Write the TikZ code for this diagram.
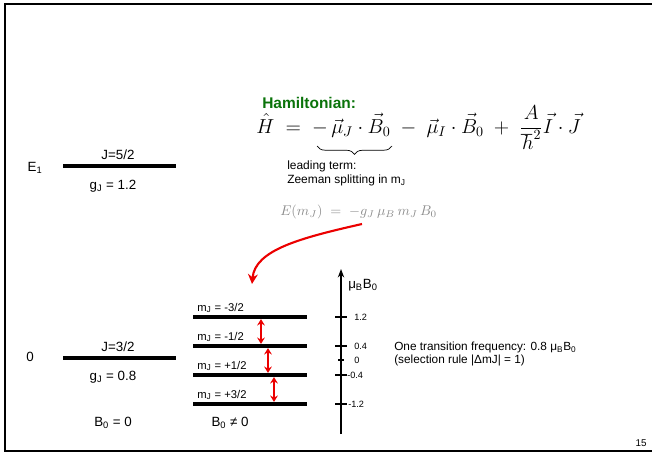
\documentclass[tikz,border=0pt]{standalone}
\usepackage{amsmath,amssymb}
\usepackage{fontspec}
\setmainfont{Liberation Sans}
\usetikzlibrary{arrows.meta,decorations.pathreplacing}

\definecolor{hamgreen}{RGB}{10,115,10}
\definecolor{arrred}{RGB}{235,0,0}

\tikzset{
  level/.style={line width=3pt},
  txt/.style={font=\fontsize{9.5}{11}\selectfont, inner sep=0pt},
  mlbl/.style={font=\fontsize{8}{9}\selectfont, inner sep=0pt, anchor=base west},
  ticklbl/.style={font=\fontsize{6.5}{7}\selectfont, inner sep=0pt, anchor=west},
  trans/.style={arrred, line width=2pt, {Stealth[length=4.5pt,width=5.5pt]}-{Stealth[length=4.5pt,width=5.5pt]}, shorten <=1.5pt, shorten >=1.5pt}
}

\begin{document}
\begin{tikzpicture}[x=0.025cm, y=-0.025cm]
\useasboundingbox (0,0) rectangle (652,454);

% Frame
\draw[line width=2pt] (652,4) -- (5,4) -- (5,451) -- (652,451);
\node[font=\fontsize{7}{8}\selectfont, inner sep=0pt] (page) at (641,443) {15};

% Hamiltonian
\node[txt, font=\bfseries\fontsize{11}{13}\selectfont, text=hamgreen, anchor=west] (hamtitle) at (262,103) {Hamiltonian:};
\node[anchor=base west, inner sep=0pt, font=\fontsize{14.2}{17}\selectfont] (hamilt) at (256,133)
  {$\hat H \;=\; -\,\vec\mu_J\cdot\vec B_0\;-\;\vec\mu_I\cdot\vec B_0\;+\;\dfrac{A}{\hbar^2}\vec I\cdot\vec J$};
\draw[line width=0.5pt, decorate, decoration={brace, mirror, amplitude=6pt}] (317,146) -- (392,146);
\node[txt, font=\fontsize{8.5}{10.5}\selectfont, align=left, anchor=west] (lead) at (287,173.5)
  {leading term:\\Zeeman splitting in m\textsubscript{J}};
\node[anchor=base west, inner sep=0pt, text=black!45, font=\fontsize{9.7}{12}\selectfont] (energy) at (280,215)
  {$E(m_J) \;=\; -g_J\,\mu_B\,m_J\,B_0$};

% Curved arrow to the split levels
\coordinate (curvestart) at (362,224);
\coordinate (curveend) at (252,284);
\draw[arrred, line width=1.5pt, -{Stealth[length=7pt,width=7pt]}] (curvestart) .. controls (300,238) and (255,250) .. (curveend);

% Levels without field
\draw[level] (63,166) -- (176,166);
\node[txt, anchor=center] (eone) at (35,168) {E\textsubscript{1}};
\node[txt] (jhigh) at (118,155) {J=5/2};
\node[txt] (ghigh) at (113,186) {g\textsubscript{J} = 1.2};

\draw[level] (63,358) -- (176,358);
\node[txt] (ezero) at (30,357) {0};
\node[txt] (jlow) at (118,347) {J=3/2};
\node[txt] (glow) at (113,377) {g\textsubscript{J} = 0.8};
\node[txt] (bzero) at (113,423) {B\textsubscript{0} = 0};

% Zeeman sublevels
\foreach \y/\m in {317/-3\slash 2, 346/-1\slash 2, 375/+1\slash 2, 404/+3\slash 2}{
  \draw[level] (193,\y) -- (307,\y);
  \node[mlbl] at (197,\y-6) {m\textsubscript{J} = \m};
}
\node[txt] (bfield) at (230,423) {B\textsubscript{0} ≠ 0};

% Allowed transitions
\coordinate (ta) at (261,317);
\coordinate (tb) at (261,346);
\coordinate (tc) at (268,346);
\coordinate (td) at (268,375);
\coordinate (te) at (274,375);
\coordinate (tf) at (274,404);
\draw[trans] (ta) -- (tb);
\draw[trans] (tc) -- (td);
\draw[trans] (te) -- (tf);

% Energy axis
\coordinate (axbot) at (341,434);
\coordinate (axtop) at (341,269);
\draw[line width=1.2pt, -{Stealth[length=6pt,width=4.5pt]}] (axbot) -- (axtop);
\node[txt, anchor=west] (axlbl) at (348,285) {μ\textsubscript{B}B\textsubscript{0}};
\foreach \y/\v/\dx in {317/1.2/13, 346/0.4/13, 375/-0.4/6, 404/-1.2/7}{
  \draw[line width=1pt] (335,\y) -- (347,\y);
  \node[ticklbl] at (341+\dx,\y) {\v};
}
\draw[line width=1pt] (338,360) -- (344,360);
\node[ticklbl] (tzero) at (354,360) {0};

% Transition frequency
\node[txt, font=\fontsize{8.4}{9.4}\selectfont, align=left, anchor=west] (freq) at (394,354)
  {One transition frequency: 0.8 μ\textsubscript{B}B\textsubscript{0}\\(selection rule |ΔmJ| = 1)};
\end{tikzpicture}
\end{document}
